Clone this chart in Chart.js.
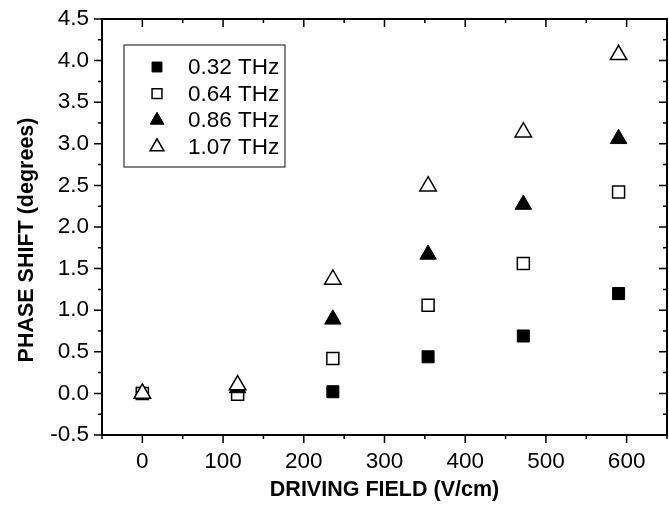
<!DOCTYPE html>
<html>
<head>
<meta charset="utf-8">
<script src="https://cdn.jsdelivr.net/npm/chart.js@4/dist/chart.umd.min.js"></script>
<style>
  body { margin: 0; background: #fff; }
  #wrap { width: 669px; height: 508px; }
</style>
</head>
<body>
<div id="wrap"><canvas id="chart" width="669" height="508"></canvas></div>
<script>
// driving field values (V/cm)
const fields = [0, 118, 236, 354, 472, 590];

// phase shift (degrees) for each frequency
const shift032 = [0, 0.02, 0.02, 0.44, 0.69, 1.20];
const shift064 = [0, -0.01, 0.42, 1.06, 1.56, 2.42];
const shift086 = [0, 0.065, 0.89, 1.67, 2.27, 3.06];
const shift107 = [0, 0.10, 1.37, 2.49, 3.14, 4.07];

const seriesLabels = ["0.32 THz", "0.64 THz", "0.86 THz", "1.07 THz"];

const FONT = "'Liberation Sans', Arial, sans-serif";

const toPoints = (ys) => fields.map((x, i) => ({ x: x, y: ys[i] }));

// stop chart.js from adding label overflow padding, layout.padding decides
const noOverflow = (s) => {
  s.paddingLeft = 0;
  s.paddingRight = 0;
  s.paddingTop = 0;
  s.paddingBottom = 0;
};

// axis box + tick marks (out on bottom/left, in on top/right) + y title
const frameTicks = {
  id: "frameTicks",
  afterDraw(chart) {
    const ctx = chart.ctx;
    const { left, right, top, bottom } = chart.chartArea;
    const xs = chart.scales.x;
    const ys = chart.scales.y;
    ctx.save();
    ctx.strokeStyle = "#000";
    ctx.lineWidth = 1.5;
    ctx.beginPath();
    xs.ticks.forEach((t) => {
      const px = xs.getPixelForValue(t.value);
      const len = t.label !== "" ? 8 : 4;
      ctx.moveTo(px, bottom);
      ctx.lineTo(px, bottom + len);
      ctx.moveTo(px, top);
      ctx.lineTo(px, top + len);
    });
    ys.ticks.forEach((t) => {
      const py = ys.getPixelForValue(t.value);
      const len = t.label !== "" ? 8 : 4;
      ctx.moveTo(left, py);
      ctx.lineTo(left - len, py);
      ctx.moveTo(right, py);
      ctx.lineTo(right - len, py);
    });
    ctx.stroke();
    ctx.lineWidth = 2;
    ctx.strokeRect(left, top, right - left, bottom - top);

    // y title sits a little below the middle of the axis in the original
    ctx.translate(27, (top + bottom) / 2 + 13);
    ctx.rotate(-Math.PI / 2);
    ctx.font = "bold 21.5px " + FONT;
    ctx.fillStyle = "#000";
    ctx.textAlign = "center";
    ctx.textBaseline = "middle";
    ctx.fillText("PHASE SHIFT (degrees)", 0, 0);
    ctx.restore();
  },
};

// boxed legend in the upper left of the plot
const boxLegend = {
  id: "boxLegend",
  afterDraw(chart) {
    const ctx = chart.ctx;
    const { left, top } = chart.chartArea;
    const bx = left + 22;
    const by = top + 26;
    ctx.save();
    ctx.strokeStyle = "#333";
    ctx.lineWidth = 1.2;
    ctx.strokeRect(bx, by, 161, 122);
    ctx.font = "22.5px " + FONT;
    ctx.textBaseline = "middle";
    ctx.textAlign = "left";
    chart.data.datasets.forEach((ds, i) => {
      const y = by + 22 + i * 26.6;
      ctx.fillStyle = ds.backgroundColor;
      ctx.strokeStyle = "#000";
      ctx.lineWidth = ds.borderWidth;
      Chart.helpers.drawPoint(ctx, {
        pointStyle: ds.pointStyle,
        radius: ds.pointStyle === "rect" ? 7 : 8,
        rotation: 0,
        borderWidth: ds.borderWidth,
      }, bx + 33, y);
      ctx.fillStyle = "#000";
      ctx.fillText(ds.label, bx + 64, y + 1);
    });
    ctx.restore();
  },
};

new Chart(document.getElementById("chart"), {
  type: "scatter",
  data: {
    datasets: [
      {
        label: seriesLabels[0],
        data: toPoints(shift032),
        pointStyle: "rect",
        pointRadius: 8.5,
        backgroundColor: "#000",
        borderColor: "#000",
        borderWidth: 1,
        order: 3,
      },
      {
        label: seriesLabels[1],
        data: toPoints(shift064),
        pointStyle: "rect",
        pointRadius: 8.5,
        backgroundColor: "#fff",
        borderColor: "#000",
        borderWidth: 1.5,
        order: 2,
      },
      {
        label: seriesLabels[2],
        data: toPoints(shift086),
        pointStyle: "triangle",
        pointRadius: 9.5,
        backgroundColor: "#000",
        borderColor: "#000",
        borderWidth: 1,
        order: 1,
      },
      {
        label: seriesLabels[3],
        data: toPoints(shift107),
        pointStyle: "triangle",
        pointRadius: 9.5,
        backgroundColor: "#fff",
        borderColor: "#000",
        borderWidth: 1.5,
        order: 0,
      },
    ],
  },
  options: {
    responsive: false,
    devicePixelRatio: 1,
    animation: false,
    layout: {
      autoPadding: false,
      padding: { top: 19, right: 2, left: 0, bottom: 0 },
    },
    plugins: {
      legend: { display: false },
      tooltip: { enabled: false },
    },
    scales: {
      x: {
        type: "linear",
        min: -50,
        max: 650,
        grid: { display: false },
        border: { display: false },
        ticks: {
          stepSize: 50,
          autoSkip: false,
          maxRotation: 0,
          padding: 5,
          color: "#000",
          font: { family: FONT, size: 22.5 },
          callback: (v) => (v % 100 === 0 ? String(v) : ""),
        },
        title: {
          display: true,
          text: "DRIVING FIELD (V/cm)",
          color: "#000",
          font: { family: FONT, size: 21.5, weight: "bold" },
          padding: { top: 0, bottom: 5 },
        },
        afterFit: (s) => { s.height = 73; noOverflow(s); },
      },
      y: {
        type: "linear",
        min: -0.5,
        max: 4.5,
        grid: { display: false },
        border: { display: false },
        ticks: {
          stepSize: 0.25,
          autoSkip: false,
          padding: 5,
          color: "#000",
          font: { family: FONT, size: 22.5 },
          callback: (v) => {
            const h = v * 2;
            return Math.abs(h - Math.round(h)) < 1e-6 ? v.toFixed(1) : "";
          },
        },
        afterFit: (s) => { s.width = 102; noOverflow(s); },
      },
    },
  },
  plugins: [frameTicks, boxLegend],
});
</script>
</body>
</html>
